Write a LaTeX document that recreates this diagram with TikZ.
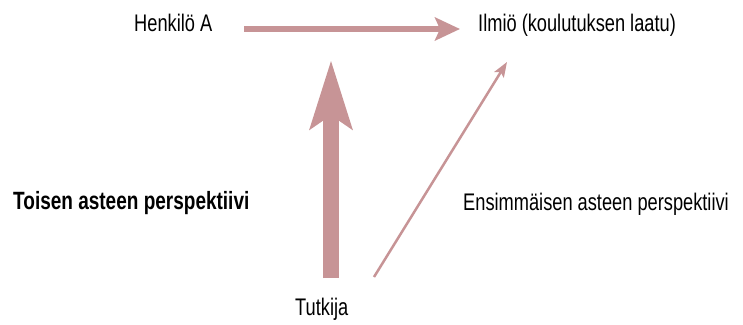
\documentclass[tikz,border=0pt]{standalone}
\usepackage{fontspec}
\setmainfont[FakeStretch=0.76]{Liberation Sans}
\usetikzlibrary{arrows.meta}
\definecolor{arrowpink}{RGB}{199,148,150}
\tikzset{
  lbl/.style={anchor=base west, inner sep=0pt, font=\fontsize{24bp}{28bp}\selectfont},
  boldlbl/.style={lbl, font=\fontsize{25bp}{29bp}\selectfont\bfseries},
  bigarrow/.style={draw=arrowpink, line width=16bp, -{Stealth[length=68bp, width=41bp, inset=13bp, fill=arrowpink]}},
  midarrow/.style={draw=arrowpink, line width=5.5bp, -{Stealth[length=25bp, width=23bp, inset=5bp, fill=arrowpink]}},
  thinarrow/.style={draw=arrowpink, line width=2.5bp, -{Stealth[length=15bp, width=11bp, inset=3bp, fill=arrowpink]}}
}
\begin{document}
\begin{tikzpicture}[x=1bp, y=-1bp]
\useasboundingbox (0,0) rectangle (743,324);
\node[lbl] (henk) at (134,31) {Henkilö A};
\node[lbl] (ilmio) at (478,31) {Ilmiö (koulutuksen laatu)};
\node[boldlbl] (toisen) at (13,209) {Toisen asteen perspektiivi};
\node[lbl] (ensim) at (463,210) {Ensimmäisen asteen perspektiivi};
\node[lbl] (tutk) at (295,315) {Tutkija};
% arrow end points
\coordinate (hstart) at (244,29);
\coordinate (hend) at (460,29);
\coordinate (vstart) at (331,278);
\coordinate (vend) at (331,60);
\coordinate (dstart) at (374,277);
\coordinate (dend) at (507,62);
\draw[midarrow] (hstart) -- (hend);
\draw[bigarrow] (vstart) -- (vend);
\draw[thinarrow] (dstart) -- (dend);
\end{tikzpicture}
\end{document}
